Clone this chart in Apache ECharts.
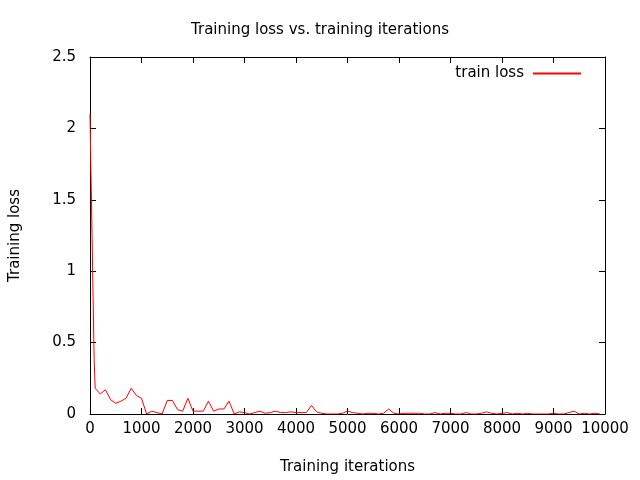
<!DOCTYPE html>
<html>
<head>
<meta charset="utf-8">
<script src="https://cdn.jsdelivr.net/npm/echarts@6/dist/echarts.min.js"></script>
<style>html,body{margin:0;padding:0;background:#fff}#chart{width:640px;height:480px}</style>
</head>
<body>
<div id="chart"></div>
<script>
var iters = [0, 20, 40, 60, 80, 100, 200, 300, 400, 500, 600, 700, 800, 900, 1000,
    1100, 1200, 1300, 1400, 1500, 1600, 1700, 1800, 1900, 2000, 2100, 2200, 2300, 2400, 2500,
    2600, 2700, 2800, 2900, 3000, 3100, 3200, 3300, 3400, 3500, 3600, 3700, 3800, 3900, 4000,
    4100, 4200, 4300, 4400, 4500, 4600, 4700, 4800, 4900, 5000, 5100, 5200, 5300, 5400, 5500,
    5600, 5700, 5800, 5900, 6000, 6100, 6200, 6300, 6400, 6500, 6600, 6700, 6800, 6900, 7000,
    7100, 7200, 7300, 7400, 7500, 7600, 7700, 7800, 7900, 8000, 8100, 8200, 8300, 8400, 8500,
    8600, 8700, 8800, 8900, 9000, 9100, 9200, 9300, 9400, 9500, 9600, 9700, 9800, 9900];
var trainLoss = [2.1, 1.67, 1.25, 0.82, 0.39, 0.18, 0.14, 0.17, 0.1, 0.075, 0.09, 0.11, 0.18, 0.13, 0.11,
    0.0, 0.02, 0.01, 0.0, 0.095, 0.095, 0.03, 0.02, 0.11, 0.02, 0.02, 0.02, 0.09, 0.02, 0.035,
    0.035, 0.09, 0.0, 0.015, 0.01, 0.0, 0.01, 0.02, 0.005, 0.01, 0.02, 0.01, 0.01, 0.015, 0.01,
    0.01, 0.01, 0.06, 0.015, 0.005, 0.0, 0.0, 0.0, 0.005, 0.02, 0.01, 0.005, 0.0, 0.005, 0.005,
    0.0, 0.005, 0.035, 0.005, 0.0, 0.005, 0.005, 0.005, 0.005, 0.0, 0.0, 0.01, 0.0, 0.005, 0.005,
    0.0, 0.0, 0.01, 0.0, 0.0, 0.005, 0.015, 0.005, 0.0, 0.005, 0.01, 0.0, 0.005, 0.0, 0.005,
    0.0, 0.0, 0.0, 0.0, 0.005, 0.0, 0.0, 0.01, 0.02, 0.0, 0.005, 0.0, 0.005, 0.0];
var xTicks = [0, 10000, 1000];
var yTicks = [0, 2.5, 0.5];

var chart = echarts.init(document.getElementById('chart'));
var font = 'DejaVu Sans';
var pts = iters.map(function (x, i) { return [x, trainLoss[i]]; });
function ax(pos, show, min, max, step) {
    return {
        type: 'value', position: pos, min: min, max: max, interval: step,
        axisLine: { show: true, onZero: false, lineStyle: { color: '#000', width: 1 } },
        axisTick: { show: true, inside: true, length: 6, lineStyle: { color: '#000' } },
        axisLabel: { show: show, color: '#000', fontFamily: font, fontSize: 15, margin: 8,
            formatter: function (v) { return String(v); } },
        splitLine: { show: false }
    };
}
var xb = ax('bottom', true, xTicks[0], xTicks[1], xTicks[2]);
xb.name = 'Training iterations'; xb.nameLocation = 'middle'; xb.nameGap = 46;
xb.nameTextStyle = { color: '#000', fontFamily: font, fontSize: 15 };
var yl = ax('left', true, yTicks[0], yTicks[1], yTicks[2]);
yl.name = 'Training loss'; yl.nameLocation = 'middle'; yl.nameGap = 67;
yl.nameTextStyle = { color: '#000', fontFamily: font, fontSize: 15 };
yl.axisLabel.margin = 14;
chart.setOption({
    animation: false,
    title: { text: 'Training loss vs. training iterations', left: 'center', top: 18,
        textStyle: { fontFamily: font, fontSize: 15, fontWeight: 'normal', color: '#000' } },
    legend: { top: 61, right: 54, itemWidth: 48, itemHeight: 2, itemGap: 12, icon: 'rect', align: 'right',
        textStyle: { fontFamily: font, fontSize: 15, color: '#000', padding: [0, 4, 0, 0] }, data: ['train loss'] },
    grid: { left: 90, right: 35, top: 57, bottom: 61 },
    xAxis: [xb, ax('top', false, xTicks[0], xTicks[1], xTicks[2])],
    yAxis: [yl, ax('right', false, yTicks[0], yTicks[1], yTicks[2])],
    series: [{ name: 'train loss', type: 'line', data: pts, showSymbol: false,
        lineStyle: { color: '#ff0000', width: 1 }, itemStyle: { color: '#ff0000' } }]
});
</script>
</body>
</html>
